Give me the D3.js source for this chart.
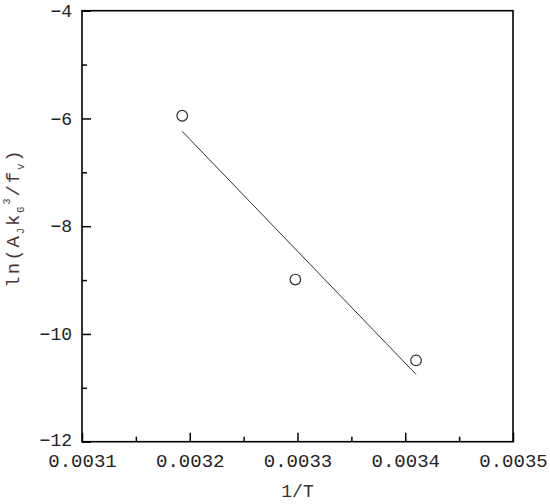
<!DOCTYPE html>
<html>
<head>
<meta charset="utf-8">
<script src="https://cdn.jsdelivr.net/npm/d3@7"></script>
<style>
  body { margin: 0; background: #fff; }
  text { font-family: "Liberation Mono", "DejaVu Sans Mono", monospace; }
</style>
</head>
<body>
<div class="chart"></div>
<script>
// measured points
var invT = [0.003193, 0.003298, 0.00341];
var lnRate = [-5.95, -8.99, -10.49];

// fitted line ends
var fitX = [0.003193, 0.00341];
var fitY = [-6.24, -10.75];

var xTicks = [0.0031, 0.0032, 0.0033, 0.0034, 0.0035];
var xMinor = [0.00315, 0.00325, 0.00335, 0.00345];
var yTicks = [-4, -6, -8, -10, -12];
var yMinor = [-5, -7, -9, -11];

var width = 550,
    height = 504;

var margin = {left: 82, top: 10.7, right: 37, bottom: 62.3};
var w = width - margin.left - margin.right,
    h = height - margin.top - margin.bottom;

var svg = d3.select(".chart").append("svg")
    .attr("width", width)
    .attr("height", height)
  .append("g")
    .attr("transform", "translate(" + margin.left + "," + margin.top + ")");

var x = d3.scaleLinear().domain([0.0031, 0.0035]).range([0, w]);
var y = d3.scaleLinear().domain([-12, -4]).range([h, 0]);

// axes: ticks point inward
var xAxis = svg.append("g")
    .attr("class", "xax")
    .attr("transform", "translate(0," + h + ")")
    .call(d3.axisBottom(x).tickValues(xTicks).tickSize(-9).tickPadding(12)
      .tickFormat(d3.format(".4f")));

svg.append("g")
    .attr("transform", "translate(0," + h + ")")
    .call(d3.axisBottom(x).tickValues(xMinor).tickSize(-5).tickFormat(""));

var yAxis = svg.append("g")
    .attr("class", "yax")
    .call(d3.axisLeft(y).tickValues(yTicks).tickSize(-9).tickPadding(10)
      .tickFormat(function(d){ return d3.format("d")(d).replace("-", "\u2212"); }));

svg.append("g")
    .call(d3.axisLeft(y).tickValues(yMinor).tickSize(-5).tickFormat(""));

svg.selectAll(".domain").remove();
svg.selectAll(".tick line").attr("stroke", "#000").attr("stroke-width", 1.5);
svg.selectAll(".tick text").attr("fill", "#222");
svg.selectAll(".xax .tick text").style("font-size", "19px");
svg.selectAll(".yax .tick text").style("font-size", "18px");
// lift the bottom label a bit so it clears the x labels
svg.selectAll(".yax .tick text").filter(function(d){ return d === -12; }).attr("dy", "0.2em");

// frame
svg.append("rect")
    .attr("x", 0)
    .attr("y", 0)
    .attr("width", w)
    .attr("height", h)
    .attr("fill", "none")
    .attr("stroke", "#000")
    .attr("stroke-width", 1.6);

// fit line
svg.append("line")
    .attr("x1", x(fitX[0]))
    .attr("y1", y(fitY[0]))
    .attr("x2", x(fitX[1]))
    .attr("y2", y(fitY[1]))
    .attr("stroke", "#333")
    .attr("stroke-width", 1);

// points
svg.selectAll(".pt")
    .data(d3.zip(invT, lnRate))
  .enter().append("circle")
    .attr("class", "pt")
    .attr("cx", function(d){ return x(d[0]); })
    .attr("cy", function(d){ return y(d[1]); })
    .attr("r", 5.3)
    .attr("fill", "none")
    .attr("stroke", "#333")
    .attr("stroke-width", 1.2);

// axis titles
svg.append("text")
    .attr("x", w / 2)
    .attr("y", 497 - margin.top)
    .attr("text-anchor", "middle")
    .attr("fill", "#333")
    .style("font-size", "18px")
    .text("1/T");

var yt = svg.append("text")
    .attr("transform", "translate(" + (19 - margin.left) + "," + (218 - margin.top) + ") rotate(-90)")
    .attr("text-anchor", "middle")
    .attr("fill", "#4a3434")
    .style("font-size", "19px")
    .style("letter-spacing", "2px");
yt.append("tspan").text("ln(A");
yt.append("tspan").attr("dy", 5).style("font-size", "10px").text("J");
yt.append("tspan").attr("dy", -5).text("k");
yt.append("tspan").attr("dy", 5).style("font-size", "10px").text("G");
yt.append("tspan").attr("dy", -14).style("font-size", "10px").text("3");
yt.append("tspan").attr("dy", 9).text("/f");
yt.append("tspan").attr("dy", 5).style("font-size", "10px").text("v");
yt.append("tspan").attr("dy", -5).text(")");
</script>
</body>
</html>
